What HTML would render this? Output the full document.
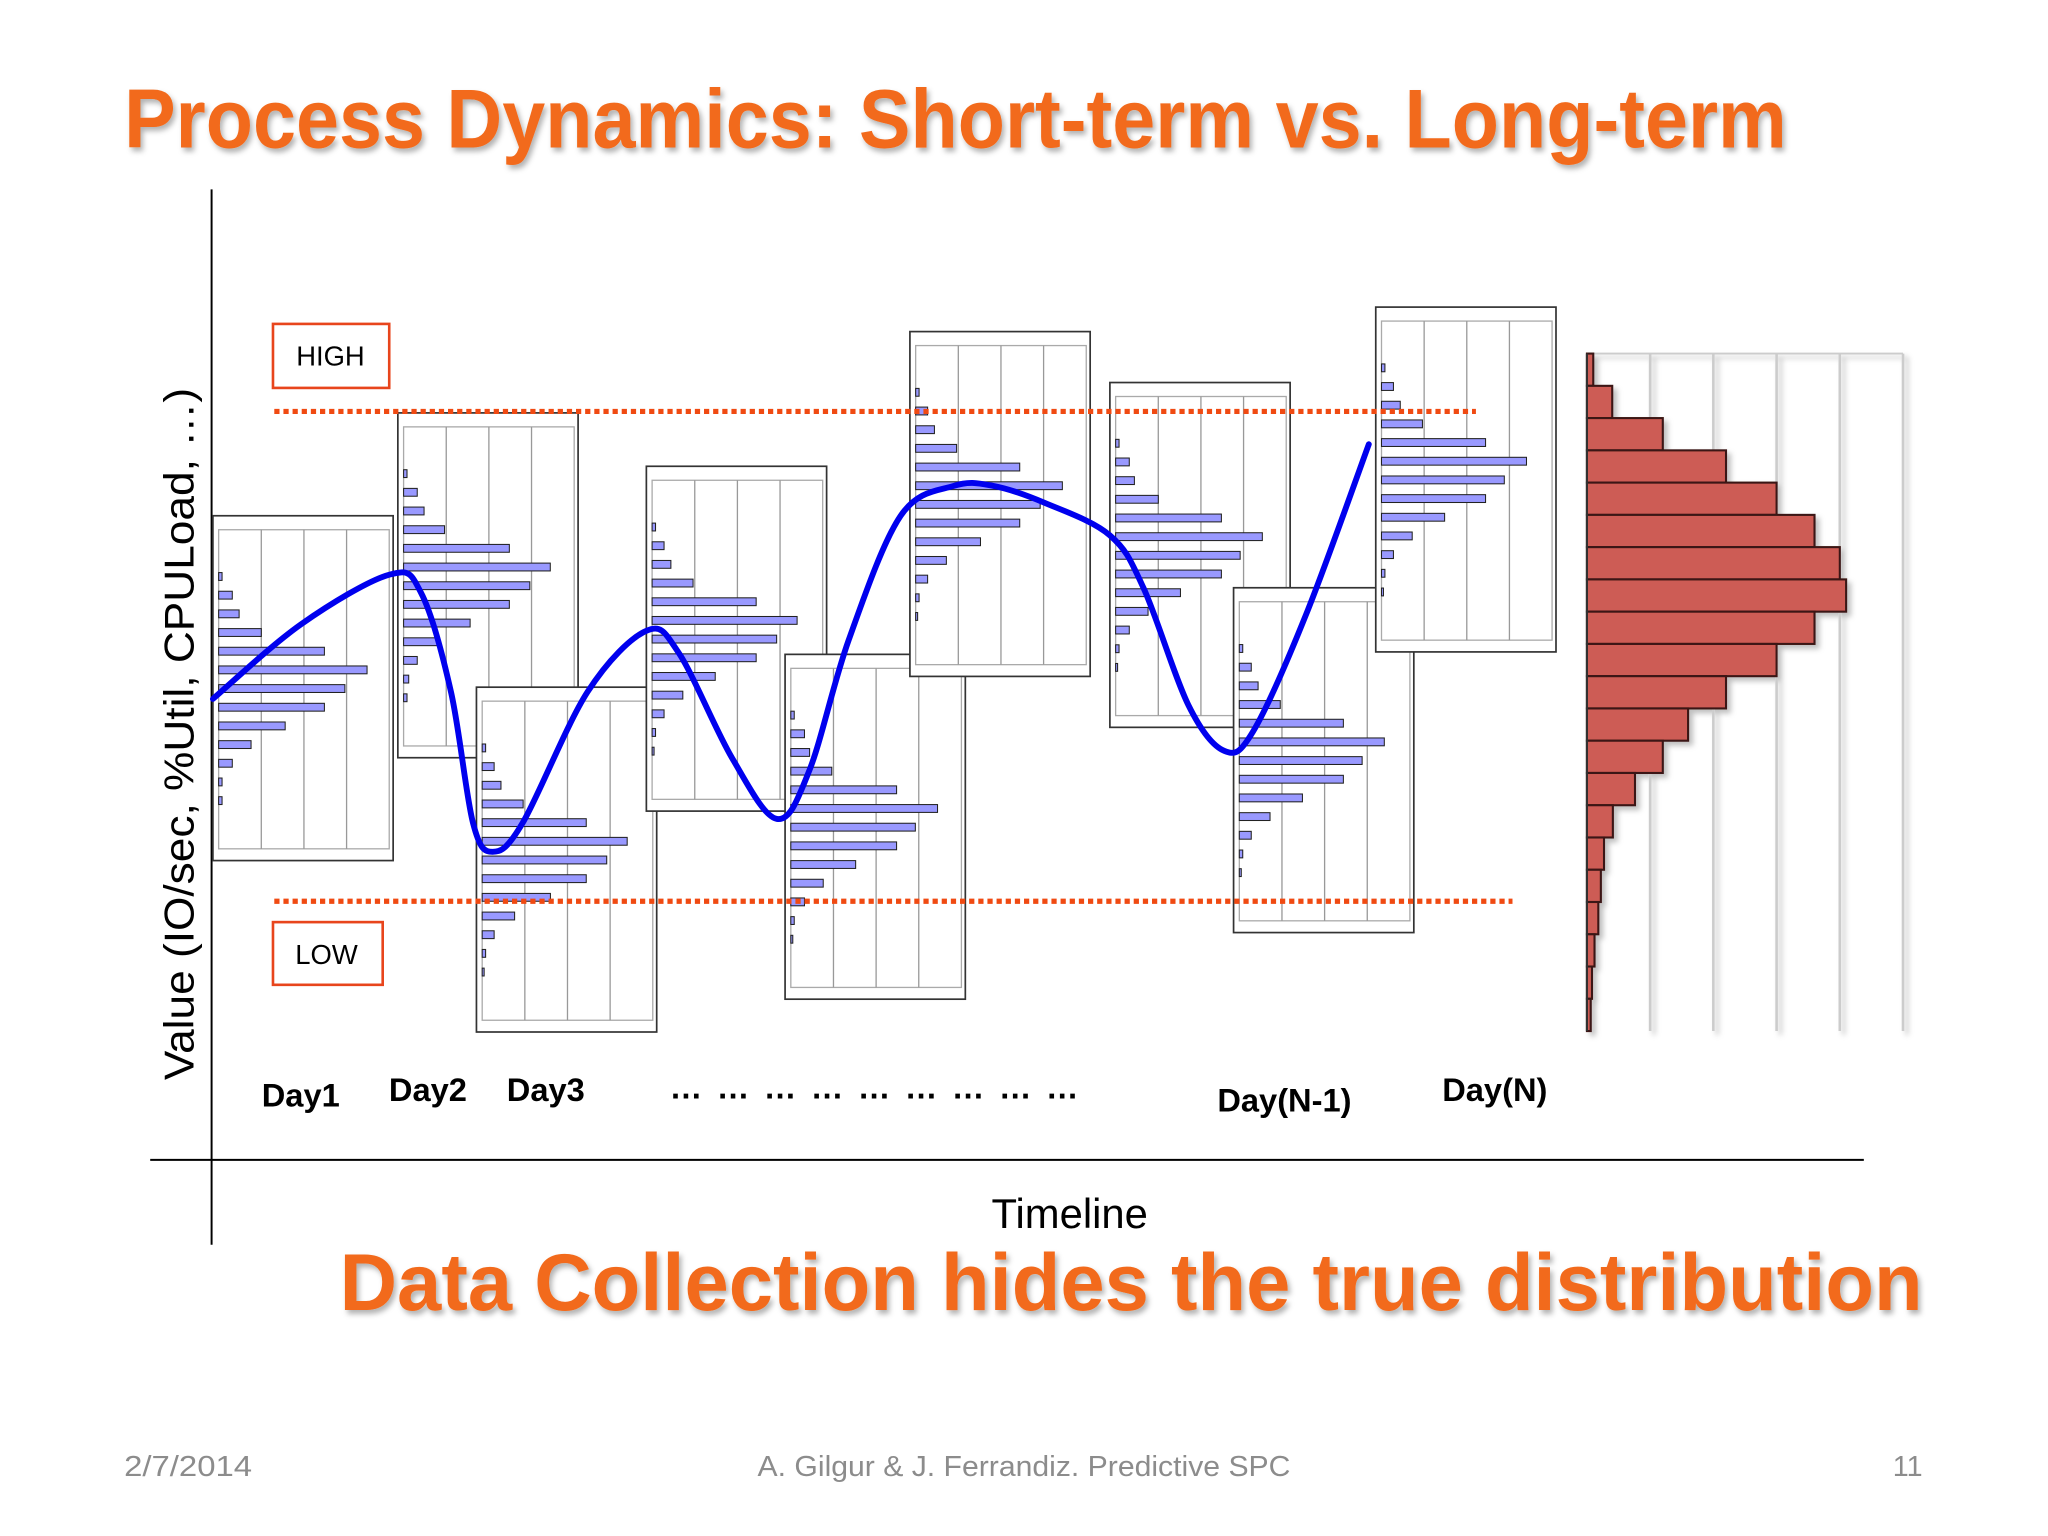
<!DOCTYPE html>
<html><head><meta charset="utf-8"><style>
html,body{margin:0;padding:0;background:#fff}
svg{display:block}
text{font-family:"Liberation Sans",sans-serif}
</style></head><body>
<svg id="s" width="2048" height="1536" viewBox="0 0 1568 1176" xmlns="http://www.w3.org/2000/svg">
<defs>
<filter id="sh" x="-5%" y="-20%" width="110%" height="140%"><feDropShadow dx="2" dy="3" stdDeviation="2" flood-color="#000" flood-opacity="0.3"/></filter>
<filter id="sh2" x="-5%" y="-5%" width="120%" height="120%"><feDropShadow dx="3" dy="3" stdDeviation="2" flood-color="#000" flood-opacity="0.25"/></filter>
</defs>
<text x="95" y="113" font-size="64" font-weight="bold" fill="#f26a1b" textLength="1273" lengthAdjust="spacingAndGlyphs" filter="url(#sh)">Process Dynamics: Short-term vs. Long-term</text>
<line x1="162" y1="145" x2="162" y2="953" stroke="#000" stroke-width="1.5"/>
<line x1="115" y1="888" x2="1427" y2="888" stroke="#000" stroke-width="1.5"/>
<text transform="translate(148,562) rotate(-90)" text-anchor="middle" font-size="32" fill="#000" textLength="530" lengthAdjust="spacingAndGlyphs">Value (IO/sec, %Util, CPULoad, …)</text>
<text x="819" y="940" text-anchor="middle" font-size="32" fill="#000">Timeline</text>
<g id="panels"></g>
<g id="limits"></g>
<g id="curve"></g>
<g id="hist" filter="url(#sh2)"></g>
<g><rect x="209" y="248" width="89" height="49" fill="#fff" stroke="#e8451c" stroke-width="2"/><text x="253" y="280" text-anchor="middle" font-size="21">HIGH</text></g>
<g><rect x="209" y="706" width="84" height="48" fill="#fff" stroke="#e8451c" stroke-width="2"/><text x="250" y="738" text-anchor="middle" font-size="21">LOW</text></g>
<g id="days" font-weight="bold" font-size="25" text-anchor="middle"></g>
<text x="260" y="1003" font-size="62" font-weight="bold" fill="#f26a1b" textLength="1212" lengthAdjust="spacingAndGlyphs" filter="url(#sh)">Data Collection hides the true distribution</text>
<text x="95" y="1130" font-size="22" fill="#8c8c8c" textLength="98" lengthAdjust="spacingAndGlyphs">2/7/2014</text>
<text x="580" y="1130" font-size="22" fill="#8c8c8c" textLength="408" lengthAdjust="spacingAndGlyphs">A. Gilgur &amp; J. Ferrandiz.  Predictive SPC</text>
<text x="1472" y="1130" font-size="22" fill="#8c8c8c" text-anchor="end">11</text>
</svg>
<script>
const NS="http://www.w3.org/2000/svg";
// daily histogram data (fraction of panel width)
const day1=[.02,.08,.12,.25,.62,.87,.74,.62,.39,.19,.08,.02,.02];
const day2=[.02,.08,.12,.24,.62,.86,.74,.62,.39,.2,.08,.03,.02];
const day3=[.02,.07,.11,.24,.61,.85,.73,.61,.40,.19,.07,.02,.01];
const day4=[.02,.07,.11,.24,.61,.85,.73,.61,.37,.18,.07,.02,.01];
const day5=[.02,.08,.11,.24,.62,.86,.73,.62,.38,.19,.08,.02,.01];
const day6=[.02,.07,.11,.24,.61,.86,.73,.61,.38,.18,.07,.02,.01];
const day7=[.02,.08,.11,.25,.62,.86,.73,.62,.38,.19,.08,.02,.01];
const day8=[.02,.07,.11,.24,.61,.85,.72,.61,.37,.18,.07,.02,.01];
const day9=[.02,.07,.11,.24,.61,.85,.72,.61,.37,.18,.07,.02,.01];
const panelData=[day1,day2,day3,day4,day5,day6,day7,day8,day9];
const panelDayT=[0,16,22.8,37.5,49.5,60.3,77.6,88.3,100.6];
const panelTopV=[78.7,99.7,43.7,88.8,50.4,116.3,105.9,64,121.3];
// process curve
const curveT=[0,7.6,15.3,18.0,20.6,22.5,24.2,26.8,32.4,37.5,40.3,44.9,48.8,51.6,55,59.5,64.1,67.5,72,77.6,80.5,84.4,87.5,90,94.6,100];
const curveV=[41.3,56.5,66.7,63,42.7,16,10.1,16,42.7,55.2,50.7,29.3,16.8,26.7,53.3,78.7,84.8,84.8,81.3,74.7,64,40,30.7,34.7,58.7,93.3];
// long term histogram
const histVals=[.1,.4,1.2,2.2,3.0,3.6,4.0,4.1,3.6,3.0,2.2,1.6,1.2,.76,.41,.27,.22,.18,.12,.08,.06];
const histTicks=[0,1,2,3,4,5];
const dayLabels=["Day1","Day2","Day3","… … … … … … … … …","Day(N-1)","Day(N)"];
const dayLabelT=[7.6,18.6,28.8,57.2,92.7,110.9];
const dayLabelDy=[0,-4,-4,-6,4,-4];

const xS=t=>163+t*8.85, yS=v=>690-v*3.75;
const hx=v=>1215+v*48.4, hy=i=>270.7+i*24.7;
function mk(tag,attrs,parent){const e=document.createElementNS(NS,tag);for(const k in attrs)e.setAttribute(k,attrs[k]);parent.appendChild(e);return e;}

const P=document.getElementById('panels');
panelData.forEach((d,i)=>{
  const x0=xS(panelDayT[i]), y0=yS(panelTopV[i]), W=138, H=264;
  const g=mk('g',{},P);
  
  
  mk('rect',{x:x0,y:y0,width:W,height:H,fill:'#fff',stroke:'#333','stroke-width':1.3},g);
  const ix=x0+4.4, iy=y0+10.7, iw=W-7.4, ih=H-19.7;
  mk('rect',{x:ix,y:iy,width:iw,height:ih,fill:'none',stroke:'#aaa','stroke-width':1},g);
  for(let k=1;k<4;k++) mk('line',{x1:ix+iw*k/4,x2:ix+iw*k/4,y1:iy,y2:iy+ih,stroke:'#999','stroke-width':1},g);
  d.forEach((v,j)=>{
    const b=mk('rect',{x:ix,y:y0+46.5+j*14.3-3,width:Math.max(1.5,v*iw),height:6,fill:'#9999ff',stroke:'#222','stroke-width':0.8},g);
    
    
  });
});

const L=document.getElementById('limits');
const hl=mk('line',{x1:210,x2:1130,y1:yS(100),y2:yS(100),stroke:'#f04a12','stroke-width':4,'stroke-dasharray':'4 3'},L);


const ll=mk('line',{x1:210,x2:1158,y1:yS(0),y2:yS(0),stroke:'#f04a12','stroke-width':4,'stroke-dasharray':'4 3'},L);



const pts=curveT.map((t,i)=>[xS(t),yS(curveV[i])]);
let dstr='M'+pts[0][0]+','+pts[0][1];
for(let i=0;i<pts.length-1;i++){
  const p0=pts[Math.max(0,i-1)],p1=pts[i],p2=pts[i+1],p3=pts[Math.min(pts.length-1,i+2)];
  const c1=[p1[0]+(p2[0]-p0[0])/6,p1[1]+(p2[1]-p0[1])/6],c2=[p2[0]-(p3[0]-p1[0])/6,p2[1]-(p3[1]-p1[1])/6];
  dstr+=' C'+c1+' '+c2+' '+p2;
}
const cp=mk('path',{d:dstr,fill:'none',stroke:'#0000ee','stroke-width':4.5,'stroke-linecap':'round'},document.getElementById('curve'));



const Hg=document.getElementById('hist');
const n=histVals.length;
mk('line',{x1:hx(0),x2:hx(5),y1:hy(0),y2:hy(0),stroke:'#ccc','stroke-width':1.5},Hg);
histTicks.forEach(t=>{const l=mk('line',{x1:hx(t),x2:hx(t),y1:hy(0),y2:hy(n),stroke:'#ccc','stroke-width':2},Hg);
  
  });
histVals.forEach((v,i)=>{
  const r=mk('rect',{x:hx(0),y:hy(i),width:Math.max(1,hx(v)-hx(0)),height:24.7,fill:'#cd5c54',stroke:'#3a1512','stroke-width':1.6},Hg);
  
  
});
mk('line',{x1:hx(0),x2:hx(0),y1:hy(0),y2:hy(n),stroke:'#333','stroke-width':1.5},Hg);

const D=document.getElementById('days');
dayLabels.forEach((s,i)=>{
  const t=mk('text',{x:xS(dayLabelT[i]),y:847+dayLabelDy[i]},D);
  t.textContent=s;
  if(i===3){t.setAttribute('textLength','313');t.setAttribute('lengthAdjust','spacing');}
  
  
});
</script>
</body></html>
